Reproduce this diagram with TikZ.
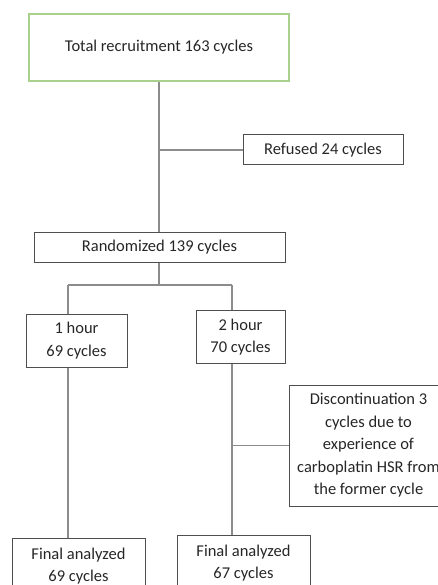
\documentclass[tikz,border=0pt]{standalone}
\usepackage{fontspec}
\setmainfont{Carlito}
\usetikzlibrary{calc}
\definecolor{boxgreen}{HTML}{A9D18E}
\definecolor{linegray}{HTML}{8C8C8C}
\definecolor{boxgray}{HTML}{4F4F4F}
\tikzset{
  box/.style={draw=boxgray, line width=1pt, align=center, inner sep=0pt,
    text=black!85, font=\fontsize{16.5}{22.5}\selectfont},
  link/.style={draw=linegray, line width=1.5pt}
}

\begin{document}
\begin{tikzpicture}[x=1pt,y=-1pt]
        \clip (0,0) rectangle (438,585);

        % boxes
        \node[box, draw=boxgreen, line width=1.8pt, minimum width=260pt, minimum height=67pt] (total) at (159,47.5) {Total recruitment 163 cycles};
        \node[box, minimum width=160pt, minimum height=30pt] (refused) at (323,150) {Refused 24 cycles};
        \node[box, minimum width=251pt, minimum height=30pt] (random) at (159.5,247) {Randomized 139 cycles};
        \node[box, minimum width=101pt, minimum height=53pt] (hour1) at (76.5,340.5) {1 hour\\69 cycles};
        \node[box, minimum width=89pt, minimum height=53pt] (hour2) at (240.5,337) {2 hour\\70 cycles};
        \node[box, anchor=west, minimum width=158pt, minimum height=121pt] (discont) at (289,445.5)
            {Discontinuation 3\\cycles due to\\experience of\\carboplatin HSR from\\the former cycle};
        \node[box, minimum width=133pt, minimum height=56pt] (final1) at (78.5,566) {Final analyzed\\69 cycles};
        \node[box, minimum width=133pt, minimum height=56pt] (final2) at (243.5,563) {Final analyzed\\67 cycles};

        % trunk
        \draw[link] (total.south) -- (total.south |- random.north);
        \draw[link] (total.south |- refused.west) -- (refused.west);

        % split into the two arms
        \coordinate (fork) at (159,285);
        \coordinate (forkL) at (68,285);
        \coordinate (forkR) at (232,285);
        \draw[link] (fork |- random.south) -- (fork);
        \draw[link] (forkL) -- (forkR);
        \draw[link] (forkL) -- (forkL |- hour1.north);
        \draw[link] (forkR) -- (forkR |- hour2.north);
        \draw[link] (forkL |- hour1.south) -- (forkL |- final1.north);
        \draw[link] (forkR |- hour2.south) -- (forkR |- final2.north);
        \draw[link] (forkR |- discont.west) -- (discont.west);
\end{tikzpicture}
\end{document}
